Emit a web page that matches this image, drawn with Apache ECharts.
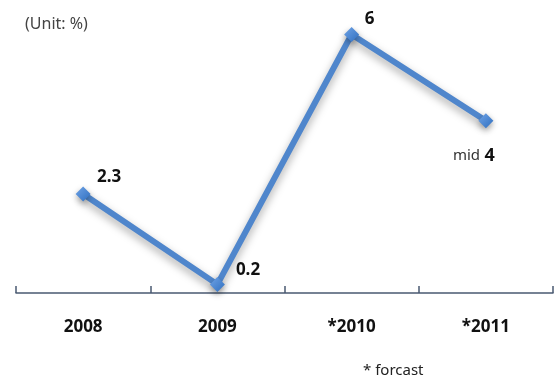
<!DOCTYPE html>
<html><head><meta charset="utf-8">
<script src="https://cdn.jsdelivr.net/npm/echarts@6/dist/echarts.min.js"></script>
<style>html,body{margin:0;padding:0;background:#fff}#c{width:556px;height:383px}</style>
</head><body><div id="c"></div>
<script>
const categories = ['2008', '2009', '*2010', '*2011'];
const values = [2.3, 0.2, 6, 4];
const valueLabels = ['2.3', '0.2', '6', '4'];

const labelPos = [
  {position: 'top', offset: [26, 4]},
  {position: 'right', offset: [6, -14]},
  {position: 'top', offset: [18, 6]},
  {position: 'bottom', offset: [-12, 14]}
];

const chart = echarts.init(document.getElementById('c'));
chart.setOption({
  animation: false,
  grid: {left: 16, right: 3, top: 13, bottom: 90},
  xAxis: {
    type: 'category', data: categories, boundaryGap: true,
    axisLine: {show: true, lineStyle: {color: '#4a5a72', width: 1.5}},
    axisTick: {show: true, inside: true, length: 7, interval: 0, lineStyle: {color: '#4a5a72', width: 1.5}},
    axisLabel: {margin: 26, color: '#111', fontSize: 17, fontWeight: 'bold', fontFamily: 'Noto Sans'}
  },
  yAxis: {type: 'value', min: 0, max: 6.5, show: false, splitLine: {show: false}},
  graphic: [
    {type: 'text', left: 25, top: 16, style: {text: '(Unit: %)', fill: '#444', fontSize: 16, fontFamily: 'Liberation Sans Narrow, Noto Sans'}},
    {type: 'text', left: 363, top: 363, style: {text: '* forcast', fill: '#222', fontSize: 15, fontFamily: 'Noto Sans'}}
  ],
  series: [{
    type: 'line',
    data: values.map((v, i) => ({
      value: v,
      label: {
        show: true,
        position: labelPos[i].position,
        offset: labelPos[i].offset,
        formatter: i === 3 ? '{m|mid} {n|' + valueLabels[i] + '}' : valueLabels[i],
        rich: {m: {fontSize: 15, fontWeight: 'normal', color: '#333', fontFamily: 'Noto Sans'}, n: {fontSize: 18, fontWeight: 'bold', color: '#111', fontFamily: 'Noto Sans'}}
      }
    })),
    symbol: 'diamond', symbolSize: 15,
    itemStyle: {
      color: new echarts.graphic.LinearGradient(0, 0, 1, 1, [{offset: 0, color: '#6fa3e6'}, {offset: 1, color: '#2f6fc0'}]),
      shadowBlur: 6, shadowColor: 'rgba(0,0,0,0.35)', shadowOffsetY: 3
    },
    lineStyle: {color: '#4f86cc', width: 6, shadowBlur: 8, shadowColor: 'rgba(0,0,0,0.35)', shadowOffsetY: 4},
    label: {color: '#111', fontSize: 17, fontWeight: 'bold', fontFamily: 'Noto Sans'}
  }]
});
</script></body></html>
